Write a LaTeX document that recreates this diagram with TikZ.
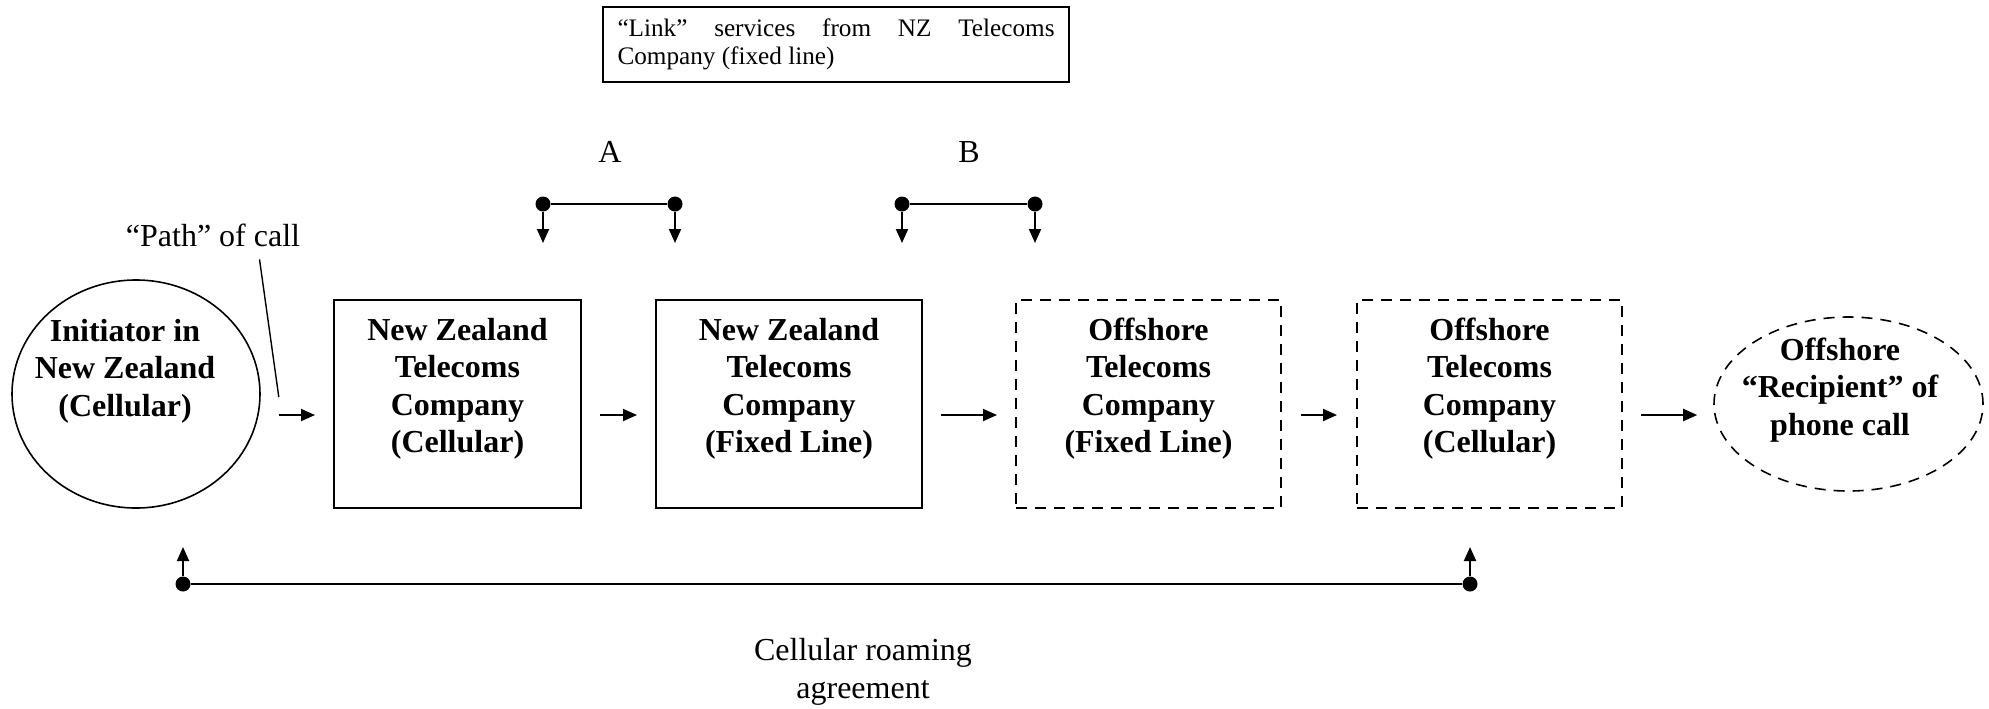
\documentclass[tikz,border=0pt]{standalone}
\usepackage{fontspec}
\setmainfont{Liberation Serif}
\usetikzlibrary{arrows.meta,shapes.geometric,calc}
\begin{document}
\begin{tikzpicture}[x=0.5pt,y=-0.5pt,
  ln/.style={line width=1pt},
  thinln/.style={line width=0.7pt},
  arr/.style={line width=1pt,-{Triangle[length=7pt,width=6pt]}},
  box/.style={draw,line width=1pt,minimum width=#1,minimum height=104pt,inner sep=0pt,
    align=center,font=\bfseries\fontsize{16}{18.7}\selectfont},
  dbox/.style={box=#1,dash pattern=on 5.5pt off 4pt},
  btext/.style={align=center,inner sep=0pt,font=\bfseries\fontsize{16}{18.7}\selectfont},
  rtext/.style={align=center,inner sep=0pt,font=\fontsize{16}{18.7}\selectfont},
  dotn/.style={circle,fill,inner sep=0pt,minimum size=7.5pt}]
\useasboundingbox (0,0) rectangle (1989,708);

% top label box
\node[draw,line width=1.3pt,minimum width=233pt,minimum height=37.5pt,inner sep=0pt,
  align=left,font=\fontsize{12.6}{14}\selectfont] (link) at (836,44.5)
  {\makebox[218.5pt][s]{“Link” services from NZ Telecoms}\\Company (fixed line)};

% A and B brackets
\node[rtext] (labA) at (610,152) {A};
\node[rtext] (labB) at (969,152) {B};
\node[dotn] (a1) at (543,204) {};
\node[dotn] (a2) at (675,204) {};
\node[dotn] (b1) at (902,204) {};
\node[dotn] (b2) at (1035,204) {};
\coordinate (a1t) at (543,243);
\coordinate (a2t) at (675,243);
\coordinate (b1t) at (902,243);
\coordinate (b2t) at (1035,243);
\draw[ln] (a1) -- (a2);
\draw[ln] (b1) -- (b2);
\draw[arr] (a1) -- (a1t);
\draw[arr] (a2) -- (a2t);
\draw[arr] (b1) -- (b1t);
\draw[arr] (b2) -- (b2t);

% main chain
\node[ellipse,draw,line width=0.8pt,minimum width=124pt,minimum height=114pt,inner sep=0pt] (init) at (136,394) {};
\node[btext] (inittext) at (125,371) {Initiator in\\New Zealand\\(Cellular)};
\node[box=123.5pt] (box1) at (457.5,404) {New Zealand\\Telecoms\\Company\\(Cellular)\\\mbox{}};
\node[box=133pt] (box2) at (789,404) {New Zealand\\Telecoms\\Company\\(Fixed Line)\\\mbox{}};
\node[dbox=132.5pt] (box3) at (1148.5,404) {Offshore\\Telecoms\\Company\\(Fixed Line)\\\mbox{}};
\node[dbox=132.5pt] (box4) at (1489.5,404) {Offshore\\Telecoms\\Company\\(Cellular)\\\mbox{}};
\node[ellipse,draw,line width=0.8pt,dash pattern=on 5.5pt off 4pt,minimum width=134.5pt,minimum height=87pt,inner sep=0pt] (recip) at (1848.5,404) {};
\node[btext] (reciptext) at (1840,390) {Offshore\\“Recipient” of\\phone call};

\draw[arr] ($(init.east)+(18,21)$) -- ($(box1.west)+(-18,11)$);
\draw[arr] ($(box1.east)+(18,11)$) -- ($(box2.west)+(-18,11)$);
\draw[arr] ($(box2.east)+(18,11)$) -- ($(box3.west)+(-18,11)$);
\draw[arr] ($(box3.east)+(19,11)$) -- ($(box4.west)+(-19,11)$);
\draw[arr] ($(box4.east)+(18,11)$) -- ($(recip.west)+(-16,11)$);

% path of call
\node[rtext] (pathlab) at (213,235) {“Path” of call};
\draw[thinln] ($(pathlab.south)+(46.5,12.5)$) -- ($(init.east)+(18,3)$);

% roaming agreement
\node[dotn] (c1) at (183,584) {};
\node[dotn] (c2) at (1470,584) {};
\coordinate (c1t) at (183,547);
\coordinate (c2t) at (1470,547);
\draw[ln] (c1) -- (c2);
\draw[arr] (c1) -- (c1t);
\draw[arr] (c2) -- (c2t);
\node[rtext] (roam) at (863,672) {Cellular roaming\\agreement};
\end{tikzpicture}
\end{document}
